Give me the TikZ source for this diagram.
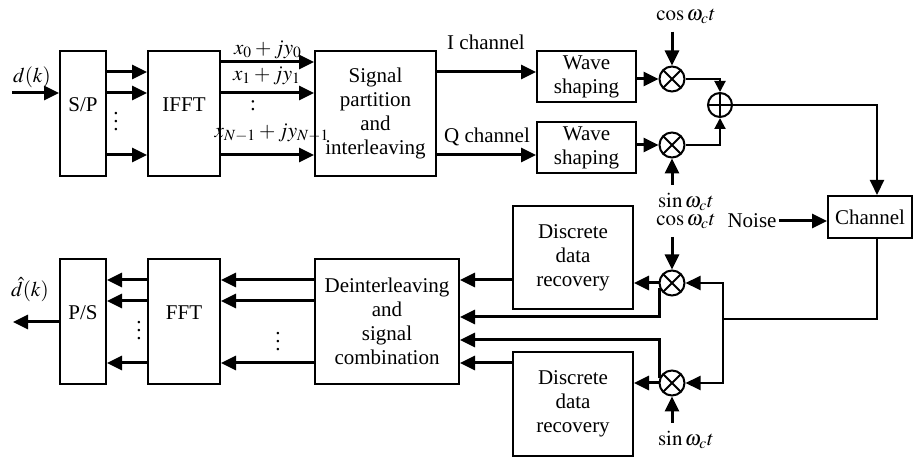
\documentclass[tikz,border=0pt]{standalone}
\usepackage{mathptmx}
\usepackage{fontspec}
\setmainfont{Liberation Serif}
\usetikzlibrary{arrows.meta}
\tikzset{
  blk/.style={draw, line width=1pt, align=center, inner sep=1pt},
  upper/.style={text depth=9pt},
  lbl/.style={inner sep=1pt},
  sigflow/.style={-{Triangle[length=7.5pt,width=7pt]}, line width=1.5pt},
  wireflow/.style={-{Triangle[length=7.5pt,width=7pt]}, line width=1pt},
  smallflow/.style={-{Triangle[length=5.5pt,width=5.5pt]}, line width=1pt},
  wire/.style={line width=1pt},
  mixer/.style={circle, draw, line width=1pt, minimum size=12.5pt, inner sep=0pt,
    path picture={\draw[line width=1pt]
      (path picture bounding box.north west) -- (path picture bounding box.south east)
      (path picture bounding box.north east) -- (path picture bounding box.south west);}},
  adder/.style={circle, draw, line width=1pt, minimum size=12pt, inner sep=0pt,
    path picture={\draw[line width=1pt]
      (path picture bounding box.north) -- (path picture bounding box.south)
      (path picture bounding box.east) -- (path picture bounding box.west);}}
}

\begin{document}
\begin{tikzpicture}[x=0.5pt,y=-0.5pt,font=\fontsize{10.5}{12}\selectfont]
  \useasboundingbox (0,0) rectangle (914,458);

  % transmitter chain
  \node[blk, upper, minimum width=23pt, minimum height=62.5pt] (sp) at (83,113.5) {S/P};
  \node[blk, upper, minimum width=36pt, minimum height=62.5pt] (ifft) at (184,113.5) {IFFT};
  \node[blk, minimum width=60.5pt, minimum height=62.5pt] (part) at (375.5,113.5)
    {Signal\\partition\\and\\interleaving};
  \node[blk, minimum width=49.5pt, minimum height=25.5pt] (ws1) at (586.5,76.5) {Wave\\shaping};
  \node[blk, minimum width=49.5pt, minimum height=25.5pt] (ws2) at (586.5,147.5) {Wave\\shaping};
  \node[mixer] (mix1) at (672,79) {};
  \node[mixer] (mix2) at (672,145) {};
  \node[adder] (add) at (720,105) {};
  \node[blk, minimum width=42pt, minimum height=21pt] (chan) at (870,217) {Channel};
  \node[lbl] (noise) at (752,221) {Noise};
  \node[lbl] (cos1) at (686,16) {$\cos\omega_c t$};
  \node[lbl] (sin1) at (686,202) {$\sin\omega_c t$};

  \node[lbl] (din) at (32,77) {$d(k)$};
  \coordinate (dstart) at (12,93);
  \draw[sigflow] (dstart) -- (sp.west |- dstart);
  \foreach \y in {72,93,155}
    \draw[sigflow] (sp.east |- 0,\y) -- (ifft.west |- 0,\y);
  \foreach \y in {62,93,155}
    \draw[sigflow] (ifft.east |- 0,\y) -- (part.west |- 0,\y);
  \node[lbl] (dotsa) at (116,116) {$\vdots$};
  \node[lbl] (dotsb) at (253,106) {:};
  \node[lbl] (lx0) at (268,50) {$x_0+jy_0$};
  \node[lbl] (lx1) at (267,76) {$x_1+jy_1$};
  \node[lbl] (lxn) at (272,133) {$x_{N-1}+jy_{N-1}$};

  \node[lbl] (ich) at (486,42) {I channel};
  \node[lbl] (qch) at (487,137) {Q channel};
  \draw[sigflow] (part.east |- 0,72) -- (ws1.west |- 0,72);
  \draw[sigflow] (part.east |- 0,155) -- (ws2.west |- 0,155);
  \draw[sigflow] (ws1.east |- mix1) -- (mix1.west);
  \draw[sigflow] (ws2.east |- mix2) -- (mix2.west);
  \draw[sigflow] ([yshift=-3pt]cos1.south -| mix1) -- (mix1.north);
  \draw[sigflow] ([yshift=3pt]sin1.north -| mix2) -- (mix2.south);
  \draw[smallflow] (mix1.east) -| (add.north);
  \draw[smallflow] (mix2.east) -| (add.south);
  \draw[wireflow] (add.east) -| ([xshift=3.5pt]chan.north);
  \draw[sigflow] (noise.east) -- (chan.west |- noise);

  % receiver chain
  \node[blk, upper, minimum width=23pt, minimum height=62.5pt] (ps) at (83,321.5) {P/S};
  \node[blk, upper, minimum width=36pt, minimum height=62.5pt] (fft) at (184,321.5) {FFT};
  \node[blk, minimum width=72pt, minimum height=62.5pt] (deint) at (387,321.5)
    {Deinterleaving\\and\\signal\\combination};
  \node[blk, minimum width=60pt, minimum height=51.5pt] (ddr1) at (573,257.5) {Discrete\\data\\recovery};
  \node[blk, minimum width=60pt, minimum height=51.5pt] (ddr2) at (573,404) {Discrete\\data\\recovery};
  \node[mixer] (mix3) at (672,283) {};
  \node[mixer] (mix4) at (672,383) {};
  \node[lbl] (cos2) at (686,221) {$\cos\omega_c t$};
  \node[lbl] (sin2) at (686,440) {$\sin\omega_c t$};

  \coordinate (split) at (723,319);
  \draw[wire] ([xshift=3.5pt]chan.south) |- (split);
  \draw[wireflow] (split) |- (mix3.east);
  \draw[wireflow] (split) |- (mix4.east);
  \draw[sigflow] ([yshift=-3pt]cos2.south -| mix3) -- (mix3.north);
  \draw[sigflow] ([yshift=3pt]sin2.north -| mix4) -- (mix4.south);
  \draw[sigflow] (mix3.west) -- (ddr1.east |- mix3);
  \draw[sigflow] (mix4.west) -- (ddr2.east |- mix4);
  \draw[sigflow] (mix3.200) |- (deint.east |- 0,317);
  \draw[sigflow] (mix4.160) |- (deint.east |- 0,340);
  \draw[sigflow] (ddr1.west |- 0,280) -- (deint.east |- 0,280);
  \draw[sigflow] (ddr2.west |- 0,363) -- (deint.east |- 0,363);

  \foreach \y in {280,301,363} {
    \draw[sigflow] (deint.west |- 0,\y) -- (fft.east |- 0,\y);
    \draw[sigflow] (fft.west |- 0,\y) -- (ps.east |- 0,\y);
  }
  \node[lbl] (dotsc) at (139,325) {$\vdots$};
  \node[lbl] (dotsd) at (278,336) {$\vdots$};

  \coordinate (dend) at (13,322);
  \draw[sigflow] (ps.west |- dend) -- (dend);
  \node[lbl] (dout) at (30,290) {$\hat{d}(k)$};
\end{tikzpicture}
\end{document}
